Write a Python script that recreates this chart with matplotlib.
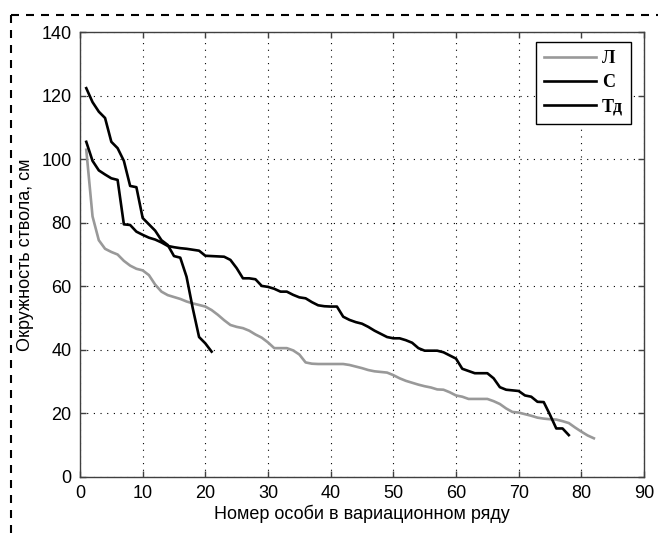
import matplotlib
matplotlib.use("Agg")
import matplotlib.pyplot as plt
from matplotlib.lines import Line2D

# Sorted trunk girth (cm) by rank in the variation series
girth_L = [103, 82, 74.5, 71.8, 70.8, 70, 68, 66.5, 65.5, 65,
           63.5, 60.5, 58.3, 57.2, 56.6, 56, 55.2, 54.6, 54.1, 53.6,
           52.5, 51, 49.3, 47.8, 47.2, 46.8, 46, 44.8, 43.8, 42.3,
           40.5, 40.5, 40.5, 39.8, 38.5, 36, 35.6, 35.5, 35.5, 35.5,
           35.5, 35.5, 35.2, 34.7, 34.2, 33.6, 33.2, 33, 32.8, 32,
           31, 30.2, 29.6, 29, 28.5, 28.1, 27.5, 27.4, 26.6, 25.6,
           25.2, 24.5, 24.5, 24.5, 24.5, 23.8, 22.9, 21.5, 20.4, 20.2,
           19.7, 19.2, 18.6, 18.3, 18.1, 18, 17.5, 16.9, 15.5, 14.2,
           13, 12.1]

girth_S = [105.5, 99.5, 96.5, 95.2, 94, 93.5, 79.5, 79.3, 77.2, 76.2,
           75.3, 74.7, 73.8, 72.7, 72.3, 72, 71.8, 71.5, 71.2, 69.6,
           69.5, 69.4, 69.3, 68.3, 65.7, 62.5, 62.5, 62.2, 60.1, 59.8,
           59.2, 58.3, 58.3, 57.3, 56.5, 56.2, 55, 54, 53.7, 53.6,
           53.6, 50.4, 49.4, 48.7, 48.2, 47.2, 46, 45, 44, 43.6,
           43.6, 43, 42.2, 40.5, 39.7, 39.7, 39.7, 39.2, 38.2, 37.2,
           34, 33.3, 32.6, 32.6, 32.6, 31, 28.2, 27.4, 27.2, 27,
           25.6, 25.2, 23.6, 23.5, 19.5, 15.2, 15.2, 13.1]

girth_Td = [122.4, 118, 115, 113, 105.5, 103.5, 99.5, 91.6, 91.2, 81.5,
            79.5, 77.5, 74.5, 73, 69.5, 69, 63, 53, 44, 42,
            39.4]

series_labels = ["Л", "С", "Тд"]
x_ticks = list(range(0, 91, 10))
y_ticks = list(range(0, 141, 20))

W, H = 658, 536
fig = plt.figure(figsize=(W / 100, H / 100), dpi=100)
ax = fig.add_axes([80 / W, 1 - 476.7 / H, (644 - 80) / W, (476.7 - 32.3) / H])

rank_L = list(range(1, len(girth_L) + 1))
rank_S = list(range(1, len(girth_S) + 1))
rank_Td = list(range(1, len(girth_Td) + 1))

ax.plot(rank_L, girth_L, color="#999999", lw=1.9, label=series_labels[0], zorder=3)
ax.plot(rank_S, girth_S, color="black", lw=1.9, label=series_labels[1], zorder=4)
ax.plot(rank_Td, girth_Td, color="black", lw=1.9, label=series_labels[2], zorder=4)

ax.set_xlim(0, 90)
ax.set_ylim(0, 140)
ax.set_xticks(x_ticks)
ax.set_yticks(y_ticks)

font_main = {"family": "Liberation Sans", "size": 13}
ax.set_xticklabels([str(v) for v in x_ticks], fontdict=font_main)
ax.set_yticklabels([str(v) for v in y_ticks], fontdict=font_main)

ax.grid(True, color="black", linestyle=(0, (1, 5)), linewidth=0.8)
ax.tick_params(direction="in", length=4, width=1, color="#404040",
               top=True, right=True, pad=6)
for sp in ax.spines.values():
    sp.set_color("#404040")
    sp.set_linewidth(1.0)

ax.set_xlabel("Номер особи в вариационном ряду", fontdict=font_main, labelpad=2)
ax.set_ylabel("Окружность ствола, см", fontdict=font_main, labelpad=5)

leg = ax.legend(loc="upper right", bbox_to_anchor=(0.977, 0.978),
                borderaxespad=0, fancybox=False, framealpha=1,
                edgecolor="black", handlelength=2.9, handletextpad=0.3,
                labelspacing=0.4, borderpad=0.45,
                prop={"family": "Liberation Serif", "weight": "bold", "size": 13})
leg.get_frame().set_linewidth(1.0)

# Dashed frame around the figure
x0, y0 = 11 / W, 1 - 15 / H
for xs, ys in (([x0, 1.0], [y0, y0]), ([x0, x0], [y0, 0.0])):
    fig.add_artist(Line2D(xs, ys, transform=fig.transFigure, color="black",
                          lw=1.5, linestyle=(0, (3.84, 3.36))))

fig.savefig("out.png", dpi=100)
